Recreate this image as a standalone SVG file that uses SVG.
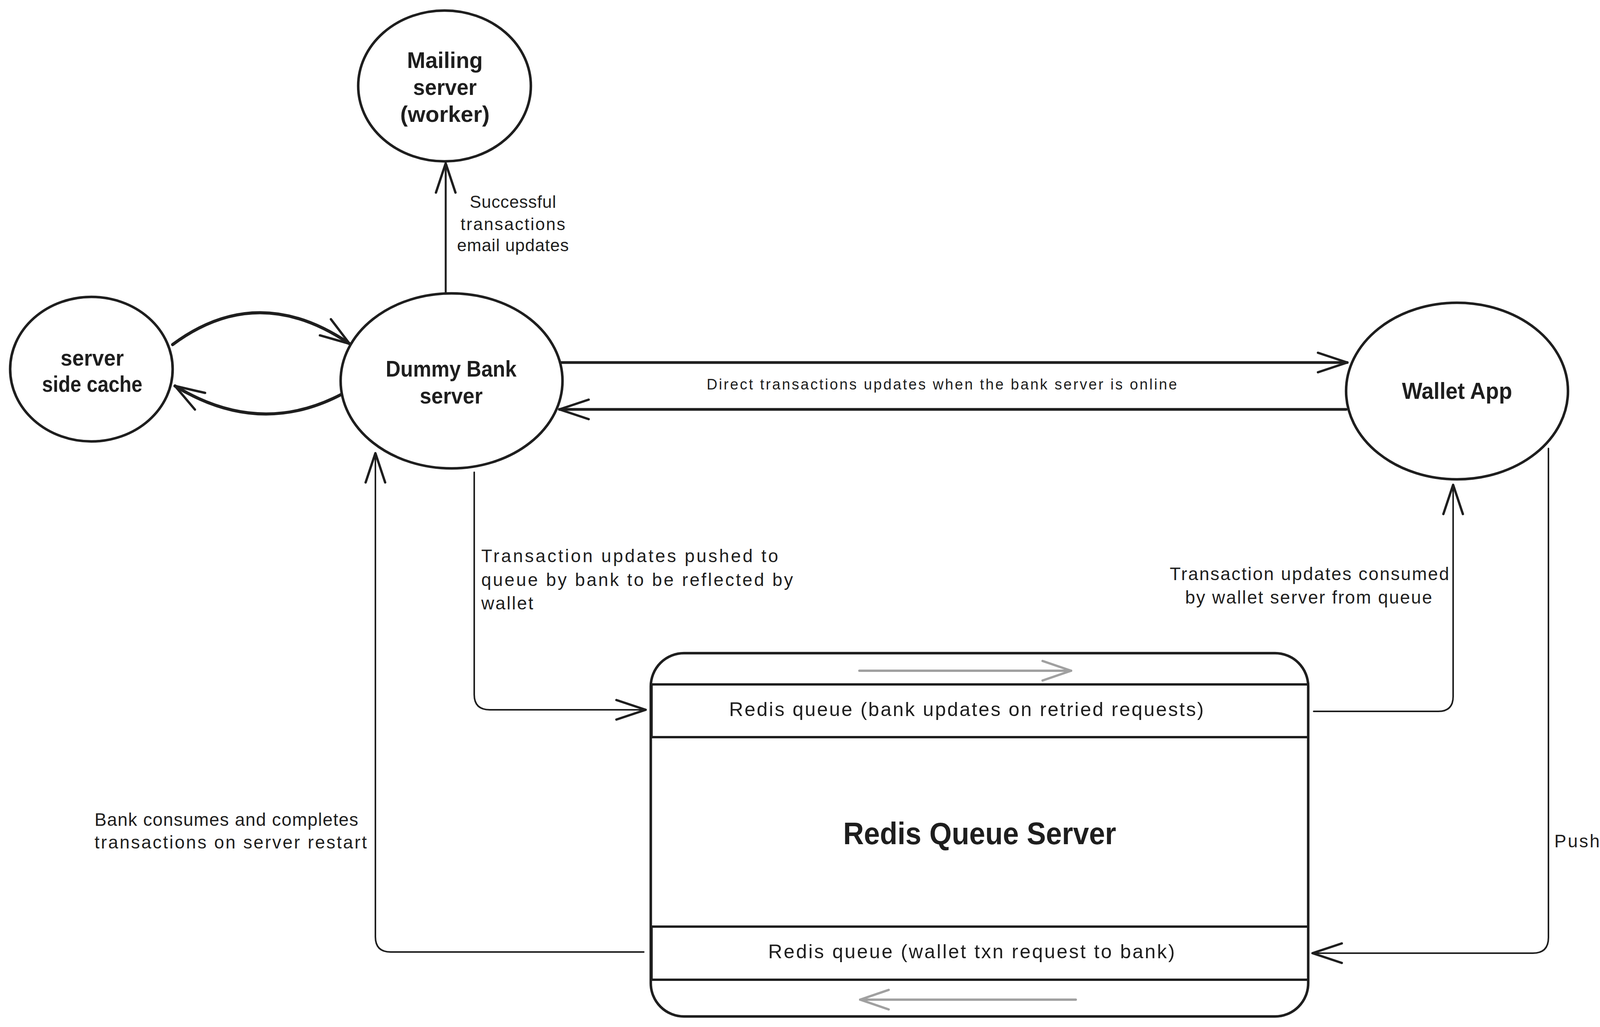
<svg xmlns="http://www.w3.org/2000/svg" width="4625" height="2629" viewBox="0 0 4625 2629">
<defs>
<style>
.shape{fill:#ffffff;stroke:#1e1e1e;stroke-width:6.5}
.row{fill:none;stroke:#1e1e1e;stroke-width:6}
.edge{fill:none;stroke:#1e1e1e;stroke-linecap:round;stroke-linejoin:round}
.gray{fill:none;stroke:#a0a0a0;stroke-width:6;stroke-linecap:round}
.nl{font-family:"Liberation Sans",Arial,sans-serif;font-weight:bold;fill:#1e1e1e;text-anchor:middle}
.el{font-family:"Liberation Sans",Arial,sans-serif;fill:#1e1e1e}
</style>
<marker id="ah" markerUnits="userSpaceOnUse" markerWidth="100" markerHeight="80" viewBox="-90 -40 100 80" refX="0" refY="0" orient="auto">
<path d="M-75,-25 L0,0 L-75,25" fill="none" stroke="#1e1e1e" stroke-width="6" stroke-linecap="round" stroke-linejoin="round"/>
</marker>
<marker id="ahg" markerUnits="userSpaceOnUse" markerWidth="100" markerHeight="80" viewBox="-90 -40 100 80" refX="0" refY="0" orient="auto">
<path d="M-73,-25 L0,0 L-73,25" fill="none" stroke="#a0a0a0" stroke-width="6" stroke-linecap="round" stroke-linejoin="round"/>
</marker>
</defs>
<rect x="0" y="0" width="4625" height="2629" fill="#ffffff"/>

<g id="connectors">
<path class="edge" stroke-width="5" d="M1141,750 L1141,418" marker-end="url(#ah)"/>
<path class="edge" stroke-width="8" d="M442,882 Q660,720 895,880" marker-end="url(#ah)"/>
<path class="edge" stroke-width="8" d="M875,1009 Q664,1120 448,988" marker-end="url(#ah)"/>
<path class="edge" stroke-width="7" d="M1436,928 L3449,928" marker-end="url(#ah)"/>
<path class="edge" stroke-width="7" d="M3446,1048 L1432,1048" marker-end="url(#ah)"/>
<path class="edge" stroke-width="4" d="M1214,1209 L1214,1778 Q1214,1817 1254,1817 L1653,1817" marker-end="url(#ah)"/>
<path class="edge" stroke-width="4" d="M3363,1821 L3682,1821 Q3720,1821 3720,1783 L3720,1241" marker-end="url(#ah)"/>
<path class="edge" stroke-width="4" d="M3964,1148 L3964,2400 Q3964,2440 3924,2440 L3360,2440" marker-end="url(#ah)"/>
<path class="edge" stroke-width="4" d="M1648,2437 L1000,2437 Q961,2437 961,2398 L961,1160" marker-end="url(#ah)"/>
<text class="el" font-size="44" text-anchor="middle" x="1313" y="532" textLength="221">Successful</text>
<text class="el" font-size="44" text-anchor="middle" x="1313" y="589" textLength="268">transactions</text>
<text class="el" font-size="44" text-anchor="middle" x="1313" y="643" textLength="286">email updates</text>
<text class="el" font-size="38" text-anchor="middle" x="2411" y="997" textLength="1204">Direct transactions updates when the bank server is online</text>
<text class="el" font-size="46" x="1232" y="1439" textLength="760">Transaction updates pushed to</text>
<text class="el" font-size="46" x="1232" y="1500" textLength="798">queue by bank to be reflected by</text>
<text class="el" font-size="46" x="1232" y="1560" textLength="133">wallet</text>
<text class="el" font-size="46" text-anchor="middle" x="3352" y="1485" textLength="715">Transaction updates consumed</text>
<text class="el" font-size="46" text-anchor="middle" x="3350" y="1545" textLength="632">by wallet server from queue</text>
<text class="el" font-size="46" x="242" y="2114" textLength="675">Bank consumes and completes</text>
<text class="el" font-size="46" x="242" y="2172" textLength="697">transactions on server restart</text>
<text class="el" font-size="46" text-anchor="middle" x="4285" y="2169" textLength="612">Push transaction Request</text>
<text class="el" font-size="46" text-anchor="middle" x="4285" y="2229" textLength="342">to retry queue</text>
</g>

<g id="mailing-server">
<ellipse class="shape" cx="1138" cy="220" rx="221" ry="193"/>
<text class="nl" font-size="58" x="1139" y="174" textLength="194" lengthAdjust="spacingAndGlyphs">Mailing</text>
<text class="nl" font-size="58" x="1139" y="243" textLength="163" lengthAdjust="spacingAndGlyphs">server</text>
<text class="nl" font-size="58" x="1139" y="312" textLength="229" lengthAdjust="spacingAndGlyphs">(worker)</text>
</g>

<g id="server-side-cache">
<ellipse class="shape" cx="234" cy="945" rx="208" ry="185"/>
<text class="nl" font-size="57" x="236" y="936" textLength="162" lengthAdjust="spacingAndGlyphs">server</text>
<text class="nl" font-size="57" x="236" y="1003" textLength="257" lengthAdjust="spacingAndGlyphs">side cache</text>
</g>

<g id="dummy-bank-server">
<ellipse class="shape" cx="1156" cy="975" rx="284" ry="224"/>
<text class="nl" font-size="58" x="1155" y="964" textLength="335" lengthAdjust="spacingAndGlyphs">Dummy Bank</text>
<text class="nl" font-size="58" x="1155" y="1033" textLength="161" lengthAdjust="spacingAndGlyphs">server</text>
</g>

<g id="wallet-app">
<ellipse class="shape" cx="3730" cy="1001" rx="284" ry="226"/>
<text class="nl" font-size="60" x="3730" y="1021" textLength="282" lengthAdjust="spacingAndGlyphs">Wallet App</text>
</g>

<g id="redis-queue-server">
<rect class="shape" x="1666" y="1672" width="1683" height="930" rx="85" ry="85" stroke-width="7"/>
<rect class="row" x="1668" y="1752" width="1681" height="135"/>
<rect class="row" x="1668" y="2372" width="1681" height="136"/>
<text class="nl" font-size="80" x="2508" y="2161" textLength="699" lengthAdjust="spacingAndGlyphs">Redis Queue Server</text>
<text class="el" font-size="50" text-anchor="middle" x="2474" y="1833" textLength="1215">Redis queue (bank updates on retried requests)</text>
<text class="el" font-size="50" text-anchor="middle" x="2487" y="2453" textLength="1041">Redis queue (wallet txn request to bank)</text>
<path class="gray" d="M2200,1717 L2742,1717" marker-end="url(#ahg)"/>
<path class="gray" d="M2754,2559 L2202,2559" marker-end="url(#ahg)"/>
</g>
</svg>
